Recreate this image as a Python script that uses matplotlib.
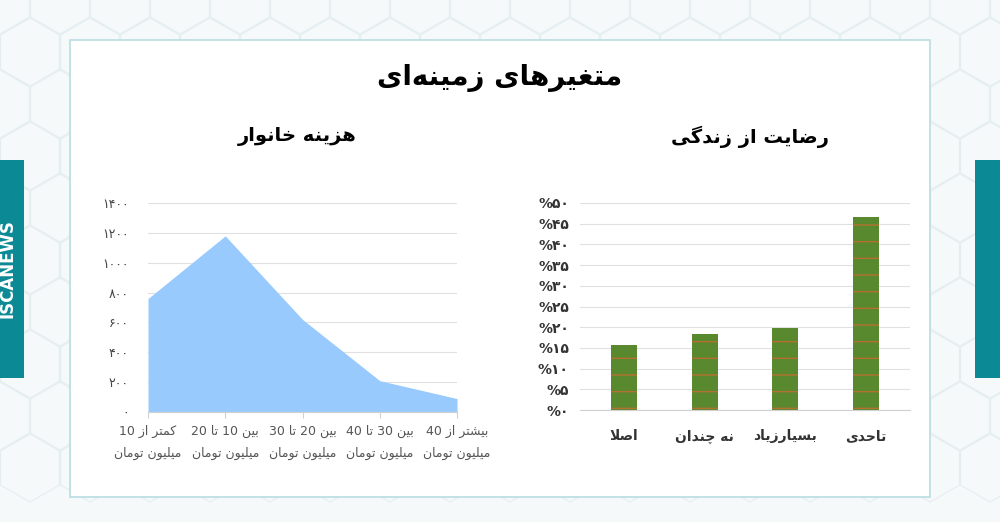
import matplotlib
matplotlib.use("Agg")
import matplotlib.pyplot as plt
from matplotlib.patches import Rectangle, RegularPolygon
import numpy as np

plt.rcParams['font.family'] = ['DejaVu Sans', 'Noto Sans']
plt.rcParams['hatch.linewidth'] = 1.0

# data
cost_labels = ["کمتر از 10\nمیلیون تومان", "بین 10 تا 20\nمیلیون تومان", "بین 20 تا 30\nمیلیون تومان",
               "بین 30 تا 40\nمیلیون تومان", "بیشتر از 40\nمیلیون تومان"]
cost_values = [760, 1180, 620, 210, 90]
cost_ticks = [0, 200, 400, 600, 800, 1000, 1200, 1400]

sat_labels = ["اصلا", "نه چندان", "بسیارزیاد", "تاحدی"]
sat_values = [15.8, 18.4, 19.8, 46.6]
sat_ticks = [0, 5, 10, 15, 20, 25, 30, 35, 40, 45, 50]

# minimal arabic shaping: isolated, final, initial, medial
FORMS = {
    'ا': (0xFE8D, 0xFE8E, None, None), 'ب': (0xFE8F, 0xFE90, 0xFE91, 0xFE92),
    'پ': (0xFB56, 0xFB57, 0xFB58, 0xFB59), 'ت': (0xFE95, 0xFE96, 0xFE97, 0xFE98),
    'ج': (0xFE9D, 0xFE9E, 0xFE9F, 0xFEA0), 'چ': (0xFB7A, 0xFB7B, 0xFB7C, 0xFB7D),
    'ح': (0xFEA1, 0xFEA2, 0xFEA3, 0xFEA4), 'خ': (0xFEA5, 0xFEA6, 0xFEA7, 0xFEA8),
    'د': (0xFEA9, 0xFEAA, None, None), 'ذ': (0xFEAB, 0xFEAC, None, None),
    'ر': (0xFEAD, 0xFEAE, None, None), 'ز': (0xFEAF, 0xFEB0, None, None),
    'س': (0xFEB1, 0xFEB2, 0xFEB3, 0xFEB4), 'ش': (0xFEB5, 0xFEB6, 0xFEB7, 0xFEB8),
    'ص': (0xFEB9, 0xFEBA, 0xFEBB, 0xFEBC), 'ض': (0xFEBD, 0xFEBE, 0xFEBF, 0xFEC0),
    'ع': (0xFEC9, 0xFECA, 0xFECB, 0xFECC), 'غ': (0xFECD, 0xFECE, 0xFECF, 0xFED0),
    'ف': (0xFED1, 0xFED2, 0xFED3, 0xFED4), 'ق': (0xFED5, 0xFED6, 0xFED7, 0xFED8),
    'ک': (0xFB8E, 0xFB8F, 0xFB90, 0xFB91), 'گ': (0xFB92, 0xFB93, 0xFB94, 0xFB95),
    'ل': (0xFEDD, 0xFEDE, 0xFEDF, 0xFEE0), 'م': (0xFEE1, 0xFEE2, 0xFEE3, 0xFEE4),
    'ن': (0xFEE5, 0xFEE6, 0xFEE7, 0xFEE8), 'ه': (0xFEE9, 0xFEEA, 0xFEEB, 0xFEEC),
    'و': (0xFEED, 0xFEEE, None, None), 'ی': (0xFBFC, 0xFBFD, 0xFBFE, 0xFBFF),
}


def shape_word(w):
    w = w.replace('لا', '\uE000')  # lam-alef ligature placeholder
    chars = list(w)
    out = []
    for i, c in enumerate(chars):
        prev = chars[i - 1] if i > 0 else None
        jp = prev in FORMS and FORMS[prev][2] is not None
        if c == '\uE000':
            out.append(chr(0xFEFC if jp else 0xFEFB))
            continue
        if c not in FORMS:
            out.append(c)
            continue
        nxt = chars[i + 1] if i + 1 < len(chars) else None
        jn = FORMS[c][2] is not None and (nxt in FORMS or nxt == '\uE000')
        f = FORMS[c]
        if jp and jn:
            out.append(chr(f[3]))
        elif jp:
            out.append(chr(f[1]))
        elif jn:
            out.append(chr(f[2]))
        else:
            out.append(chr(f[0]))
    return ''.join(out[::-1])


def fa(text):
    lines = []
    for line in text.split('\n'):
        vis = [w if w.isascii() else shape_word(w) for w in line.split(' ')]
        lines.append(' '.join(vis[::-1]))
    return '\n'.join(lines)


def fa_digits(n):
    return str(n).translate(str.maketrans('0123456789', '۰۱۲۳۴۵۶۷۸۹'))


fig = plt.figure(figsize=(10, 5.22), dpi=100)
fig.patch.set_facecolor('#f5f9fa')

# faint hexagon background
bg = fig.add_axes([0, 0, 1, 1])
bg.set_xlim(0, 1000)
bg.set_ylim(522, 0)
bg.axis('off')
for row in range(-1, 10):
    for col in range(-1, 20):
        cx = col * 60 + (30 if row % 2 else 0)
        cy = row * 52
        bg.add_patch(RegularPolygon((cx, cy), 6, radius=34, fill=False,
                                    edgecolor='#e4eef0', lw=0.8))
bg.add_patch(Rectangle((70, 40), 860, 457, facecolor='white', edgecolor='#b9dde2', lw=1.2))
bg.add_patch(Rectangle((-10, 160), 34, 218, facecolor='#0b8a96', edgecolor='none'))
bg.add_patch(Rectangle((975, 160), 40, 218, facecolor='#0b8a96', edgecolor='none'))
bg.text(8, 269, 'ISCANEWS', rotation=90, color='white', fontsize=12, fontweight='bold',
        ha='center', va='center')

# title word with zero-width non-joiner: "زمینه‌ای"
title = shape_word('ای') + shape_word('زمینه') + ' ' + shape_word('متغیرهای')
bg.text(500, 78, title, fontsize=20, fontweight='bold', ha='center', va='center', color='black')
bg.text(297, 137, fa('هزینه خانوار'), fontsize=14, fontweight='bold', ha='center', va='center')
bg.text(750, 137, fa('رضایت از زندگی'), fontsize=14, fontweight='bold', ha='center', va='center')

W, H = 1000, 522

# left area chart
ax1 = fig.add_axes([148 / W, 1 - 412 / H, (457 - 148) / W, (412 - 203) / H])
x = np.arange(len(cost_values))
ax1.fill_between(x, cost_values, 0, color='#99cafd', lw=0)
ax1.set_xlim(0, len(cost_values) - 1)
ax1.set_ylim(0, 1400)
ax1.set_yticks(cost_ticks)
ax1.set_yticklabels([fa_digits(v) for v in cost_ticks], fontsize=9, color='#444444')
ax1.set_xticks(x)
ax1.set_xticklabels([fa(l) for l in cost_labels], fontsize=9, color='#555555', linespacing=1.9)
ax1.grid(axis='y', color='#e0e0e0', lw=0.8)
ax1.set_axisbelow(True)
for s in ['top', 'right', 'left']:
    ax1.spines[s].set_visible(False)
ax1.spines['bottom'].set_color('#d0d0d0')
ax1.tick_params(axis='y', length=0, pad=14)
ax1.tick_params(axis='x', length=4, color='#d0d0d0', pad=5)

# right bar chart
ax2 = fig.add_axes([580 / W, 1 - 410 / H, (910 - 580) / W, (410 - 203) / H])
xb = np.arange(len(sat_values))
ax2.bar(xb, sat_values, width=0.32, color='#58892f', edgecolor='#b5702e', hatch='-', lw=0)
ax2.set_xlim(-0.55, len(sat_values) - 0.45)
ax2.set_ylim(0, 50)
ax2.set_yticks(sat_ticks)
ax2.set_yticklabels(['%' + fa_digits(v) for v in sat_ticks], fontsize=10, fontweight='bold',
                    color='#333333')
ax2.set_xticks(xb)
ax2.set_xticklabels([fa(l) for l in sat_labels], fontsize=10, fontweight='bold', color='#333333')
ax2.grid(axis='y', color='#e0e0e0', lw=0.8)
ax2.set_axisbelow(True)
for s in ['top', 'right', 'left']:
    ax2.spines[s].set_visible(False)
ax2.spines['bottom'].set_color('#d0d0d0')
ax2.tick_params(axis='y', length=0, pad=8)
ax2.tick_params(axis='x', length=0, pad=14)

fig.savefig('out.png', dpi=100, facecolor=fig.get_facecolor())
